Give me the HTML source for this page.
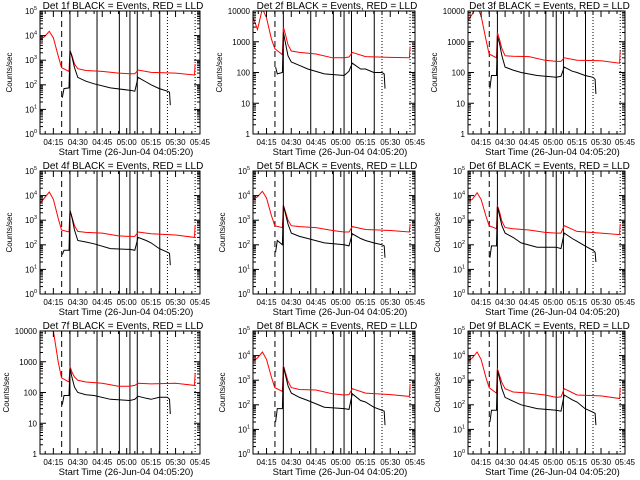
<!DOCTYPE html>
<html><head><meta charset="utf-8"><style>
body{margin:0;background:#fff;}
svg{display:block;font-family:"Liberation Sans",sans-serif;}
</style></head>
<body>
<svg id="chart" width="640" height="480" viewBox="0 0 640 480"></svg>
<script>
const redTimes = [7, 9.5, 12.5, 15, 18, 20, 24.6, 25.2, 26.5, 28, 30, 35, 45, 55, 62, 65, 67, 75, 90, 101.6, 102];
const blackTimes = [20.5, 21.5, 24.6, 25.2, 26.5, 28, 30, 35, 40, 50, 62, 65, 67, 72, 75, 80, 85, 86.3, 86.8];
const red1 = [7000,9000,15000,8000,1500,500,350,2500,1500,700,450,380,350,300,280,280,400,320,300,250,700];
const black1 = [30,70,75,2500,1300,500,200,140,110,75,60,55,200,130,100,70,55,50,15];
const red2 = [6000,2500,12000,6000,1200,600,380,3000,1700,800,500,450,400,300,300,320,450,330,310,300,700];
const black2 = [150,90,100,2000,900,350,220,170,130,90,80,110,200,130,130,100,100,90,30];
const red3 = [5000,8000,14000,7000,1200,400,300,2000,1200,600,350,340,330,250,230,230,300,250,240,200,500];
const black3 = [30,80,80,1500,900,350,150,120,100,80,70,75,150,110,100,80,70,60,20];
const red4 = [5000,8000,14000,7000,1200,400,330,2500,1300,600,350,320,300,230,220,220,330,280,250,200,600];
const black4 = [40,60,60,2500,1200,400,150,130,110,70,65,60,200,150,120,70,50,45,15];
const red5 = [7000,9000,15000,8000,1500,600,500,4000,2200,1000,600,550,500,380,330,330,550,420,380,330,700];
const black5 = [50,150,100,4000,1800,700,300,220,180,120,100,90,280,180,150,120,100,90,30];
const red6 = [6000,7000,13000,7000,1500,600,450,4000,2200,900,500,450,400,320,300,300,600,350,300,260,700];
const black6 = [30,90,90,3500,1600,600,300,200,120,80,80,70,300,180,140,90,60,50,20];
const red7 = [20000,20000,20000,10000,1000,300,220,700,450,320,250,220,200,160,160,170,200,190,200,170,400];
const black7 = [40,80,80,600,300,150,100,85,80,60,55,60,75,65,60,70,70,60,20];
const red8 = [6000,8000,14000,7000,1300,500,350,4000,2000,900,500,420,400,280,250,260,450,300,260,220,700];
const black8 = [20,70,70,3500,1600,600,300,200,150,80,70,65,280,150,130,80,60,55,15];
const red9 = [6000,8000,14000,7000,1300,500,300,3000,1600,800,450,330,300,250,200,210,450,250,230,180,500];
const black9 = [20,60,60,2500,1200,450,200,140,100,70,60,55,250,160,130,70,50,45,15];
const xTickMinutes = [15,30,45,60,75,90,105];
const xTickLabels = ["04:15","04:30","04:45","05:00","05:15","05:30","05:45"];
const dashedLines = [20.1];
const solidLines = [25.2,41.8,55.5,62.0,66.5,80.3];
const dottedLines = [85.0,102.0];
const reds=[red1,red2,red3,red4,red5,red6,red7,red8,red9];
const blacks=[black1,black2,black3,black4,black5,black6,black7,black8,black9];
const decadeMax=[5,4,4,5,5,5,4,5,5];
const NS="http://www.w3.org/2000/svg";
const svg=document.getElementById('chart');
const colX=[[40,200],[253,415],[468,625]];
const XMIN=6.8,XMAX=105;
function mk(tag,attrs,parent){const e=document.createElementNS(NS,tag);for(const k in attrs)e.setAttribute(k,attrs[k]);(parent||svg).appendChild(e);return e;}
for(let p=0;p<9;p++){
  const r=Math.floor(p/3),c=p%3;
  const x0=colX[c][0],x1=colX[c][1],y0=r*160+11,y1=r*160+134;
  const dm=decadeMax[p];
  const g=mk('g',{});
  
  
  const sx=t=>x0+(t-XMIN)/(XMAX-XMIN)*(x1-x0);
  const sy=v=>y1-(Math.log10(Math.max(v,1e-3))/dm)*(y1-y0);
  const clipId='clip'+p;
  const cp=mk('clipPath',{id:clipId},g);mk('rect',{x:x0,y:y0,width:x1-x0,height:y1-y0},cp);
  const addV=(arr,dash,name)=>arr.forEach(t=>{const l=mk('line',{x1:sx(t),x2:sx(t),y1:y0,y2:y1,stroke:'#000','stroke-width':1,'stroke-dasharray':dash},g);});
  addV(dashedLines,'6,4','dashed-marker');addV(solidLines,'none','solid-marker');addV(dottedLines,'1,2','dotted-marker');
  const line=(ts,vs,col,name)=>{let d='';ts.forEach((t,i)=>{d+=(i?'L':'M')+sx(t).toFixed(1)+','+sy(vs[i]).toFixed(1);});const pa=mk('path',{d:d,fill:'none',stroke:col,'stroke-width':1,'clip-path':'url(#'+clipId+')'},g);};
  line(redTimes,reds[p],'#ff0000','lld-red-series');
  line(blackTimes,blacks[p],'#000000','events-black-series');
  const fr=mk('rect',{x:x0,y:y0,width:x1-x0,height:y1-y0,fill:'none',stroke:'#000','stroke-width':1},g);
  
  for(let d=0;d<=dm;d++){
    const y=sy(Math.pow(10,d));
    mk('line',{x1:x0,x2:x0+6,y1:y,y2:y,stroke:'#000'},g);mk('line',{x1:x1,x2:x1-6,y1:y,y2:y,stroke:'#000'},g);
    if(d<dm)for(let m=2;m<10;m++){const ym=sy(m*Math.pow(10,d));mk('line',{x1:x0,x2:x0+3,y1:ym,y2:ym,stroke:'#000'},g);mk('line',{x1:x1,x2:x1-3,y1:ym,y2:ym,stroke:'#000'},g);}
    const tl=mk('text',{x:x0-3,y:y+3,'font-size':8,'text-anchor':'end'},g);
    
    if(dm===5){tl.textContent='10';const s=mk('tspan',{dy:-4,'font-size':5.5},tl);s.textContent=String(d);}
    else tl.textContent=String(Math.pow(10,d));
  }
  for(let t=10;t<=XMAX;t+=5){const x=sx(t);const maj=xTickMinutes.includes(t);mk('line',{x1:x,x2:x,y1:y1,y2:y1-(maj?6:3),stroke:'#000'},g);mk('line',{x1:x,x2:x,y1:y0,y2:y0+(maj?6:3),stroke:'#000'},g);}
  xTickMinutes.forEach((t,i)=>{const tl=mk('text',{x:sx(t),y:y1+11,'font-size':8,'text-anchor':'middle'},g);tl.textContent=xTickLabels[i];});
  const tt=mk('text',{x:(x0+x1)/2+3,y:y0-2,'font-size':10,'text-anchor':'middle'},g);
  tt.textContent='Det '+(p+1)+'f BLACK = Events, RED = LLD';
  const xt=mk('text',{x:(x0+x1)/2+6,y:y1+21,'font-size':9.5,'text-anchor':'middle'},g);
  xt.textContent='Start Time (26-Jun-04 04:05:20)';
  const yx=x0-(dm===5?28:31),yc=(y0+y1)/2;
  const yt=mk('text',{x:yx,y:yc,'font-size':8,'text-anchor':'middle',transform:'rotate(-90 '+yx+' '+yc+')'},g);
  yt.textContent='Counts/sec';
}
</script>
</body></html>
